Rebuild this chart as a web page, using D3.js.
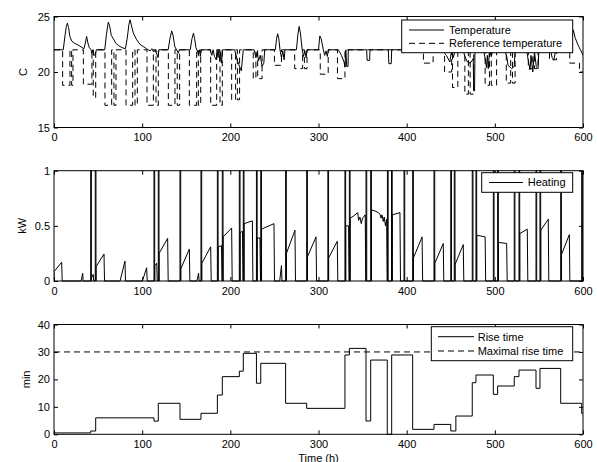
<!DOCTYPE html>
<html><head><meta charset="utf-8">
<script src="https://cdn.jsdelivr.net/npm/d3@7"></script>
<style>
body{margin:0;background:#fff}
svg{display:block;font-family:"Liberation Sans",Arial,Helvetica,sans-serif}
</style></head><body><svg id="fig" width="597" height="462"></svg>
<script>
// ---- data -------------------------------------------------------------
const timeTicks = [0, 100, 200, 300, 400, 500, 600];
const tempTicks = [15, 20, 25];
const heatTicks = [0, 0.5, 1];
const riseTicks = [0, 10, 20, 30, 40];

// indoor temperature, [hour, °C]
const temperature = [
  [0,22],[10.5,22],[12.5,23.3],[14,24.1],[15.2,24.4],[16.5,24],[18,23.2],[20,22.8],[23,22.6],[28,22.4],[32,22.2],[34,22.1],
  [35.5,22.6],[37,23.2],[38.5,22.6],[40,22.2],[42,22],[43,21.7],[44,22],[45.5,21.5],[47,21.6],[48,22],
  [57.5,22],[59.5,23.4],[61.6,24.5],[63,24.2],[65,23.3],[67.3,23],[70,22.6],[73,22.4],[77,22.2],[81,22.1],
  [83,23],[85,24.3],[86.3,24.7],[87.5,24.3],[90,23.5],[93.8,22.9],[97.5,22.5],[101,22.3],[105,22.1],[107,22],
  [109,21.9],[111,22.1],[113,21.8],[115,22],[116.5,21.6],[118,21.3],[119,22],
  [129.5,22],[131.5,23],[133.5,23.7],[135,23.3],[137,22.3],[139,22],[141,21.7],[142,22],
  [154.5,22],[156.5,23],[158.2,23.5],[159.5,23],[161,22.2],[162.5,21.9],[164,21.6],[165,22],[166,21.4],[167,22],
  [177,22],[179,21.5],[180.5,22],[182,21.4],[184,21.1],[185,22],[186,21.3],[187,22],[188,21],[189,21.8],[190,20.8],[191,22],
  [205,22],[208,21],[211,20.4],[212.5,20.1],[213.5,21],[214.7,22],
  [227,22],[229,21.3],[230.5,21.8],[232,21],[234,21.5],[236,20.5],[238,20.8],[239,22],
  [251,22],[252.5,23],[253.7,23.45],[255,23],[256.3,22],[258,21.3],[259.5,21.9],[261,21.1],[262,22],
  [275,22],[276.5,23.3],[278,24.1],[279.5,23.5],[281.5,22],[283,21.4],[284.5,21.9],[286,21.3],[287,22],
  [300,22],[301.5,23.25],[303,23],[305.5,22],[307,21.5],[308.5,21.9],[310,21.4],[311.2,22],
  [322.5,22],[326,21.5],[329,20.9],[330,20.45],[331,22],[332,20.5],[333.5,20.5],[333.8,22],
  [354.6,22],[355.2,21.05],[358,21.05],[358.4,22],
  [379.2,22],[379.8,20.75],[382.5,20.75],[383,22],
  [440,22],[445,21.5],[449,20.9],[451,22],[453,21.3],[455,22],
  [464,22],[466,21.4],[469,20.9],[472,20.8],[474,21],[475.5,21.2],[476,18.3],[477,18.3],[477.5,22],
  [487,22],[489,21.2],[490.5,20.4],[491.5,21.5],[492.5,20.3],[494,22],[496,21.4],[498,22],
  [511,22],[513.5,21.4],[515,20.6],[519,20.3],[522,20.5],[523,22],
  [536,22],[538,21],[540,20.2],[541,21.5],[543,20],[545,21.8],[547,20.5],[549,20.3],[550,22],
  [563,22],[565,21.3],[567,21.1],[569,22],
  [585,22],[587,23],[589,23.8],[591,23.1],[594,22.5],[597,22],[598.5,21.8],[600,21.5]
];

// reference set-point, [hour, °C], held until the next entry
const referenceTemperature = [
  [0,22],
  [9.8,18.8],[18.1,22],[20,18.8],[21.5,22],
  [33.3,18.9],[43,22],[44.5,17.7],[47.3,22],
  [57.8,17],[65.4,22],[68,17],[70.3,22],
  [81.7,17],[89.2,22],[91.9,17],[94.5,22],
  [105.5,17],[112.7,22],[115.7,17],[118.3,22],
  [129.7,17],[137.2,22],[139.8,17],[142.5,22],
  [153.5,17],[161.8,22],[163.7,17],[166.4,22],
  [177.7,17],[184.5,22],[188.3,17],[190.9,22],
  [201.5,17.5],[206,22],[208,17.5],[210.5,22],
  [226,19.4],[229,22],[231,19.4],[236,22],
  [250,20.6],[258,22],
  [273,20.3],[282,22],[284,20.3],[287,22],
  [302,19.8],[311,22],
  [321.5,19.4],[330,22],
  [419,20.8],[430,22],
  [443,20],[451,22],[452,18.6],[458,22],
  [466,18],[470,22],[472,18],[476,22],
  [489,18.8],[494,22],[496,18.8],[502,22],
  [513,19],[518,22],[520,19],[523,22],
  [538,20.3],[543,22],[545,20.3],[549,22],
  [562,21.1],[570,22],
  [585,20.8],[596,20],[600,20]
];

// full-power heating pulses, start hour
const heatingPulses = [41.6,46.8,113.4,118.3,142.9,166.7,185.3,190.9,210.2,214.7,229.6,234.5,262.7,286.6,310.6,
  330,335,353.9,359.2,378.2,382.8,397,406.8,431,450,454,474.4,478.6,498.3,503.2,522,527.4,546.7,551.2,574.7,598.5];

// partial-power heating stretches, [hour, kW]
const heatingRuns = [
  [[0,0.085],[8.7,0.17]],
  [[30.8,0],[32.5,0.07]],
  [[42.6,0.03],[44.5,0.06]],
  [[47.7,0.13],[56.7,0.245]],
  [[74.9,0],[80.5,0.18]],
  [[100.2,0],[105.1,0.12]],
  [[114.3,0.14],[116.5,0.16]],
  [[119.2,0.25],[128.9,0.387]],
  [[143.8,0.11],[153.5,0.29]],
  [[162,0],[164,0.07]],
  [[167.6,0.16],[177.7,0.31]],
  [[186.2,0.31],[190,0.32]],
  [[191.8,0.40],[201.5,0.48]],
  [[211.1,0.44],[213.8,0.45]],
  [[215.6,0.52],[225,0.545]],
  [[230.5,0.39],[233.6,0.39]],
  [[235.4,0.47],[249.5,0.52]],
  [[256,0],[258,0.14]],
  [[263.6,0.25],[273.3,0.46]],
  [[287.5,0.22],[297.2,0.40]],
  [[311.5,0.21],[321.3,0.36]],
  [[330.9,0.5],[334.1,0.5]],
  [[335.9,0.57],[340,0.59],[344.5,0.62],[345.5,0.55],[347,0.58],[348.5,0.52],[350,0.57],[353,0.6]],
  [[360.1,0.645],[364,0.635],[368,0.62],[370,0.6],[371,0.57],[372,0.6],[373.5,0.54],[374.5,0.58],[376,0.5],[377.3,0.56]],
  [[383.7,0.6],[392.4,0.62]],
  [[407.7,0.21],[417.5,0.40]],
  [[431.9,0.16],[441.5,0.34]],
  [[454.9,0.15],[464.2,0.33]],
  [[479.5,0.415],[489,0.40]],
  [[504.1,0.35],[513.4,0.34]],
  [[528.3,0.43],[536.8,0.47]],
  [[552.1,0.46],[560.6,0.56]],
  [[575.6,0.24],[584.5,0.42]]
];

// rise time, [hour, min], held until the next entry
const riseTime = [
  [0,0.5],[41.6,1.2],[47.3,6],[113.4,4.8],[118.3,11.3],[142.9,5.45],[166.7,7.65],[185.3,14.3],[190.9,21],
  [210.2,23],[214.7,29.5],[229.6,18.6],[234.5,25.85],[262.7,11.3],[286.6,9.45],[330,28.9],[335,31.3],
  [353.9,4.85],[359.2,27.05],[378,0],[383,28.9],[406.8,1.8],[431,3.6],[450,1.2],[455.8,6.65],[474.4,18.8],
  [478.6,21.6],[498.3,14.55],[503.2,17.6],[522,21],[527.4,23.4],[546.7,16.75],[551.2,24],[574.7,11.3],
  [598.5,7.65],[600,7.65]
];
const maxRiseTime = [[0,30],[600,30]];

// ---- layout -----------------------------------------------------------
const svg = d3.select('#fig');
svg.append('rect').attr('width',597).attr('height',462).attr('fill','#fff');
const FONT = 11;
const x = d3.scaleLinear().domain([0,600]).range([54,583]);

const PULSE_W = 0.8, DROP_W = 0.6;
const heatingSeries = (() => {
  const events = heatingPulses.map(t => ({s:t, pts:[[t,0],[t,1],[t+PULSE_W,1],[t+PULSE_W,0]]}))
    .concat(heatingRuns.map(r => ({s:r[0][0], pts:[[r[0][0],0], ...r, [r[r.length-1][0]+DROP_W,0]]})));
  events.sort((a,b) => a.s - b.s);
  const pts = [];
  events.forEach(e => pts.push(...e.pts));
  pts.push([600,0]);
  return pts;
})();

const panels = [
  {top:16.5, bottom:127.5, domain:[15,25], ticks:tempTicks, label:'C', labelX:27.3},
  {top:170.7, bottom:281, domain:[0,1], ticks:heatTicks, label:'kW', labelX:26},
  {top:324.5, bottom:434.3, domain:[0,40], ticks:riseTicks, label:'min', labelX:30}
];

function drawAxes(p, i) {
  const y = d3.scaleLinear().domain(p.domain).range([p.bottom, p.top]);
  p.y = y;
  const g = svg.append('g');
  const style = sel => {
    sel.select('.domain').remove();
    sel.attr('font-size', FONT).attr('font-family', null);
    sel.selectAll('line').attr('stroke','#000');
    sel.selectAll('text').attr('fill','#000');
  };
  g.append('g').attr('transform',`translate(0,${p.bottom})`)
    .call(d3.axisBottom(x).tickValues(timeTicks).tickSizeInner(-4).tickSizeOuter(0).tickPadding(6)).call(style);
  g.append('g').attr('transform',`translate(0,${p.top})`)
    .call(d3.axisTop(x).tickValues(timeTicks).tickSizeInner(-4).tickSizeOuter(0).tickFormat('')).call(style);
  g.append('g').attr('transform',`translate(${x.range()[0]},0)`)
    .call(d3.axisLeft(y).tickValues(p.ticks).tickSizeInner(-4).tickSizeOuter(0).tickPadding(4).tickFormat(d3.format('~g'))).call(style);
  g.append('g').attr('transform',`translate(${x.range()[1]},0)`)
    .call(d3.axisRight(y).tickValues(p.ticks).tickSizeInner(-4).tickSizeOuter(0).tickFormat('')).call(style);
  svg.append('text').attr('transform',`translate(${p.labelX},${(p.top+p.bottom)/2}) rotate(-90)`)
    .attr('text-anchor','middle').attr('font-size',FONT).text(p.label);
  svg.append('clipPath').attr('id','clip'+i).append('rect')
    .attr('x',x.range()[0]).attr('y',p.top-1).attr('width',x.range()[1]-x.range()[0]).attr('height',p.bottom-p.top+2);
  p.plot = svg.append('g').attr('clip-path',`url(#clip${i})`);
}
panels.forEach(drawAxes);

function series(p, data, curve, dash) {
  const line = d3.line().x(d => x(d[0])).y(d => p.y(d[1])).curve(curve || d3.curveLinear);
  p.plot.append('path').datum(data).attr('d', line).attr('fill','none')
    .attr('stroke','#000').attr('stroke-width',1).attr('stroke-dasharray', dash || null);
}

series(panels[0], temperature);
series(panels[0], referenceTemperature, d3.curveStepAfter, '6,4');
series(panels[1], heatingSeries);
series(panels[2], riseTime, d3.curveStepAfter);
series(panels[2], maxRiseTime, d3.curveLinear, '6,4');

// axes boxes on top of the data
panels.forEach(p => {
  svg.append('rect').attr('x',x.range()[0]).attr('y',p.top)
    .attr('width',x.range()[1]-x.range()[0]).attr('height',p.bottom-p.top)
    .attr('fill','none').attr('stroke','#000').attr('stroke-width',1);
});

svg.append('text').attr('x',(x.range()[0]+x.range()[1])/2).attr('y',461.5)
  .attr('text-anchor','middle').attr('font-size',FONT).text('Time (h)');

// ---- legends ----------------------------------------------------------
function legend(x0, y0, x1, y1, lineX0, lineX1, textX, entries) {
  const g = svg.append('g');
  g.append('rect').attr('x',x0).attr('y',y0).attr('width',x1-x0).attr('height',y1-y0)
    .attr('fill','#fff').attr('stroke','#000').attr('stroke-width',1);
  entries.forEach(e => {
    g.append('line').attr('x1',lineX0).attr('x2',lineX1).attr('y1',e.y).attr('y2',e.y)
      .attr('stroke','#000').attr('stroke-width',1).attr('stroke-dasharray', e.dash || null);
    g.append('text').attr('x',textX).attr('y',e.y).attr('dy','0.36em')
      .attr('font-size',FONT).text(e.label);
  });
}
legend(401.7, 20, 572.7, 52.7, 409, 444, 449, [
  {label:'Temperature', y:30},
  {label:'Reference temperature', y:43.3, dash:'6,4'}
]);
legend(481.7, 172.7, 572.7, 192.3, 489, 523, 527.7, [
  {label:'Heating', y:182.5}
]);
legend(431.3, 326.7, 572.7, 360.7, 438, 474, 477.7, [
  {label:'Rise time', y:336.7},
  {label:'Maximal rise time', y:351, dash:'6,4'}
]);
</script></body></html>
